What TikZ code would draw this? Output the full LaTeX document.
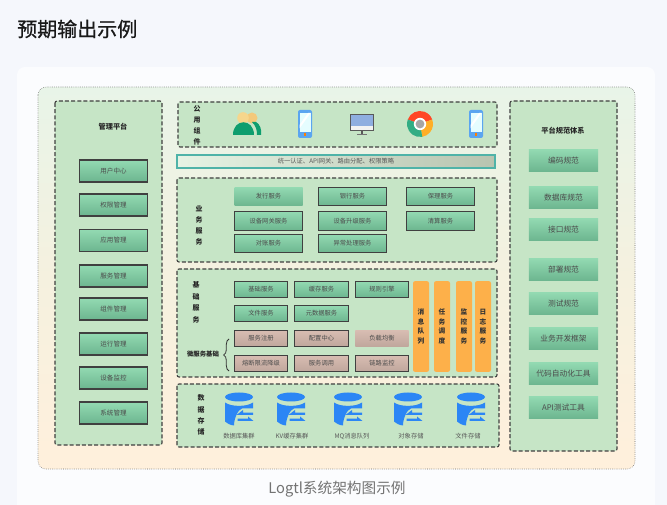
\documentclass[tikz,border=0pt]{standalone}
\usepackage{fontspec}
\setmainfont{Noto Sans CJK SC}
\newfontfamily\titlefont[FakeBold=0.7]{Noto Sans CJK SC}
\usetikzlibrary{decorations.pathreplacing}
\definecolor{pagebg}{HTML}{F5F7FC}
\definecolor{cardtop}{HTML}{E8F4E8}
\definecolor{cardmid}{HTML}{F5F1DF}
\definecolor{cardbot}{HTML}{FFF0DC}
\definecolor{panelbg}{HTML}{C6E5C6}
\definecolor{boxtop}{HTML}{93DAB2}
\definecolor{boxbot}{HTML}{6CB58F}
\definecolor{roseTop}{HTML}{D8BDB2}
\definecolor{roseBot}{HTML}{BFA69C}
\definecolor{orangebar}{HTML}{FDB04A}
\definecolor{dbblue}{HTML}{2B86F5}
\definecolor{phoneblue}{HTML}{5BA5F0}
\definecolor{barleft}{HTML}{E6F3E4}
\definecolor{barright}{HTML}{B8C4B0}
\definecolor{barline}{HTML}{4FB3A8}
\definecolor{peoplegreen}{HTML}{0E9E6E}
\definecolor{headfront}{HTML}{F6D68C}
\definecolor{headback}{HTML}{F3C97A}
\tikzset{
  panel/.style={draw=black!75,line width=.8pt,dash pattern=on 3pt off 1.6pt,fill=panelbg,rounded corners=1.5pt},
  mgrbox/.style={draw=black!75,line width=.9pt,top color=boxtop,bottom color=boxbot,minimum width=51pt,minimum height=16.5pt,inner sep=0pt,font=\fontsize{4.9pt}{6pt}\selectfont,text=black!70},
  normbox/.style={draw=none,top color=boxtop,bottom color=boxbot,minimum width=52pt,minimum height=17pt,inner sep=0pt,font=\fontsize{5.8pt}{7pt}\selectfont,text=black!70},
  bizbox/.style={mgrbox,minimum height=14pt,font=\fontsize{4.7pt}{6pt}\selectfont},
  basebox/.style={bizbox,minimum width=40pt,minimum height=12.5pt},
  microbox/.style={basebox,top color=roseTop,bottom color=roseBot},
  orangecol/.style={fill=orangebar,rounded corners=1.5pt,minimum width=12pt,minimum height=68pt,inner sep=0pt,align=center,font=\fontsize{5pt}{7.2pt}\selectfont\bfseries,text=black!80},
  sidelabel/.style={align=center,inner sep=0pt,font=\fontsize{5.2pt}{8.4pt}\selectfont\bfseries,text=black!85},
  titlelabel/.style={inner sep=0pt,font=\fontsize{5.4pt}{7pt}\selectfont\bfseries,text=black!85},
  dblabel/.style={inner sep=0pt,font=\fontsize{4.7pt}{6pt}\selectfont,text=black!65},
  pics/phoneicon/.style={code={
    \fill[phoneblue,rounded corners=1.5pt] (-7,-14) rectangle (7,14);
    \fill[blue!8!cyan!10] (-5.5,-11) rectangle (5.5,8);
    \fill[white] (-5.5,1) -- (3,-11) -- (5.5,-11) -- (-5.5,4.5) -- cycle;
    \fill[orange] (-1,9.5) rectangle (1,12);
  }},
  pics/dbicon/.style={code={
    \fill[dbblue] (0,-9.5) ellipse (14 and 4.5);
    \fill[dbblue] (-14,-4) .. controls (-8,.5) and (8,.5) .. (14,-4) -- (14,2) -- (3,2) .. controls (-1,3) and (-5,12) .. (-5,19) .. controls (-9,18.5) and (-12,17) .. (-14,15) -- cycle;
    \fill[dbblue] (-2.5,8.5) -- (4,3.5) -- (4,6.2) -- (14,6.2) -- (14,8.5) -- cycle;
    \fill[dbblue] (-1.5,12.2) -- (9,12.2) -- (9,10) -- (14.5,14.5) -- (-1.5,14.5) -- cycle;
  }}
}
\begin{document}
\begin{tikzpicture}[x=.75pt,y=-.75pt]
\useasboundingbox (0,0) rectangle (667,505);
\fill[pagebg] (0,0) rectangle (667,505);
\fill[white!60!pagebg,rounded corners=6pt] (17,67) rectangle (655,520);
\node[anchor=west,inner sep=0pt,font=\fontsize{15pt}{18pt}\selectfont\titlefont,text=black!90] (pagetitle) at (17,29) {预期输出示例};
\node[inner sep=0pt,font=\fontsize{11pt}{13pt}\selectfont,text=black!55] (caption) at (337,489) {Logtl系统架构图示例};
% outer card
\draw[black!60,densely dotted,top color=cardtop,bottom color=cardbot,middle color=cardmid,rounded corners=6pt] (38,87) rectangle (635,469);
% left panel
\draw[panel] (55,101) rectangle (162,445);
\node[titlelabel] (mgrtitle) at (113,127) {管理平台};
\foreach \i/\y/\txt in {1/171/用户中心,2/205/权限管理,3/240.5/应用管理,4/276/服务管理,5/309/组件管理,6/344/运行管理,7/378/设备监控,8/413/系统管理}
  \node[mgrbox] (mgr\i) at (113.5,\y) {\txt};
% right panel
\draw[panel] (510,101) rectangle (617,451);
\node[titlelabel] (normtitle) at (563,131) {平台规范体系};
\foreach \i/\y/\txt in {1/160.5/编码规范,2/197.5/数据库规范,3/229.5/接口规范,4/269.5/部署规范,5/303.5/测试规范,6/338.5/业务开发框架,7/373.5/代码自动化工具,8/407.5/API测试工具}
  \node[normbox] (norm\i) at (563.5,\y) {\txt};
% public components
\draw[panel] (178,102) rectangle (497,147);
\node[sidelabel,font=\fontsize{5.2pt}{8.2pt}\selectfont\bfseries] (publabel) at (197,125.5) {公\\用\\组\\件};
\fill[headback] (252,118) circle (5.5);
\fill[peoplegreen] (256,122) .. controls (260,124) and (262,130) .. (261,135) -- (257,135) .. controls (257,130) and (256,126) .. (252,122) -- cycle;
\fill[headfront] (243,118) circle (5.8);
\fill[peoplegreen] (233,135) .. controls (233,118) and (254,118) .. (254,135) -- cycle;
\pic at (305,124) {phoneicon};
\pic at (476,124) {phoneicon};
\fill[black!65] (350,114) rectangle (374,131.5);
\fill[cyan!50!blue!45] (351,115) rectangle (373,126);
\fill[white!95!black] (351,126) rectangle (373,130.5);
\fill[black!65] (361,131.5) rectangle (363,134);
\fill[black!55] (357,134) rectangle (367,135);
\fill[red!70!orange!85!white] (420,124) -- ++(200:13) arc (200:340:13) -- cycle;
\fill[orange!75!yellow!85!white] (420,124) -- ++(340:13) arc (340:440:13) -- cycle;
\fill[peoplegreen!85!white] (420,124) -- ++(80:13) arc (80:200:13) -- cycle;
\fill[white] (420,124) circle (6.2);
\fill[black!35] (420,124) circle (4.4);
% gateway bar
\draw[barline,line width=.9pt,left color=barleft,right color=barright] (177,155) rectangle (495,168);
\node[inner sep=0pt,font=\fontsize{4.7pt}{6pt}\selectfont,text=black!65] (gateway) at (336,161.5) {统一认证、API网关、路由分配、权限策略};
% business services
\draw[panel] (177,178) rectangle (497,262);
\node[sidelabel,font=\fontsize{5.2pt}{8.4pt}\selectfont\bfseries] (bizlabel) at (199,225.5) {业\\务\\服\\务};
\node[bizbox,draw=none] (biz1) at (268.5,196.5) {发行服务};
\foreach \i/\x/\y/\txt in {2/352.5/196.5/银行服务,3/440.5/196.5/保理服务,4/268.5/221/设备网关服务,5/352.5/221/设备升级服务,6/440.5/221/清算服务,7/268.5/243.5/对账服务,8/352.5/243.5/异常处理服务}
  \node[bizbox] (biz\i) at (\x,\y) {\txt};
% base services
\draw[panel] (177,269) rectangle (497,377);
\node[sidelabel,font=\fontsize{5.2pt}{8.6pt}\selectfont\bfseries] (baselabel) at (196,302.5) {基\\础\\服\\务};
\foreach \i/\x/\y/\txt in {1/261/289.5/基础服务,2/321.5/289.5/缓存服务,3/382/289.5/规则引擎,4/261/313.5/文件服务,5/321.5/313.5/元数据服务}
  \node[basebox] (base\i) at (\x,\y) {\txt};
\foreach \i/\x/\y/\txt in {1/261/338.5/服务注册,2/321.5/338.5/配置中心,4/261/363.5/熔断限流降级,5/321.5/363.5/服务调用,6/382/363.5/链路监控}
  \node[microbox] (micro\i) at (\x,\y) {\txt};
\node[microbox,draw=none] (micro3) at (382,338.5) {负载均衡};
\node[titlelabel,font=\fontsize{4.8pt}{6pt}\selectfont\bfseries] (microlabel) at (203,354) {微服务基础};
\coordinate (bracetop) at (229,339);
\coordinate (bracebot) at (229,371);
\draw[black!80,line width=.6pt,decorate,decoration={brace,amplitude=4pt}] (bracebot) -- (bracetop);
\foreach \i/\x/\txt in {1/421/消\\息\\队\\列,2/442/任\\务\\调\\度,3/464/监\\控\\服\\务,4/483/日\\志\\服\\务}
  \node[orangecol] (col\i) at (\x,326.5) {\txt};
% data storage
\draw[panel] (177,384) rectangle (499,447);
\node[sidelabel] (datalabel) at (201,415) {数\\据\\存\\储};
\foreach \i/\x/\lx/\txt in {1/239/239/数据库集群,2/291/292/KV缓存集群,3/348/352/MQ消息队列,4/408/411/对象存储,5/471/468/文件存储}{
  \pic at (\x,406.5) {dbicon};
  \node[dblabel] (db\i) at (\lx,436) {\txt};
}
\end{tikzpicture}
\end{document}
